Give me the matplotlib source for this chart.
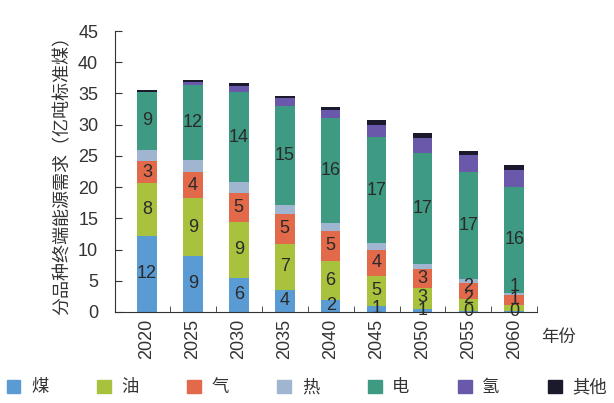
import numpy as np
import matplotlib
matplotlib.use('Agg')
import matplotlib.pyplot as plt
from matplotlib.patches import Patch

plt.rcParams['font.family'] = ['Liberation Sans', 'Noto Sans CJK SC']

years = ['2020', '2025', '2030', '2035', '2040', '2045', '2050', '2055', '2060']
fuels = ['煤', '油', '气', '热', '电', '氢', '其他']
colors = ['#5b9bd3', '#a8c23e', '#e2694a', '#a0b5cf', '#3f9a84', '#6a58ab', '#1b1a2c']

# 亿吨标准煤
coal = [12.2, 9.0, 5.5, 3.5, 1.9, 1.0, 0.5, 0.2, 0.1]
oil = [8.4, 9.2, 8.9, 7.4, 6.3, 4.8, 3.4, 1.8, 1.0]
gas = [3.6, 4.2, 4.6, 4.8, 4.8, 4.1, 3.0, 2.7, 1.6]
heat = [1.7, 1.9, 1.8, 1.5, 1.2, 1.1, 0.8, 0.5, 0.4]
elec = [9.4, 12.0, 14.4, 15.8, 16.9, 17.0, 17.7, 17.2, 16.9]
hydrogen = [0.0, 0.5, 1.0, 1.2, 1.3, 2.0, 2.5, 2.7, 2.8]
other = [0.3, 0.3, 0.4, 0.4, 0.4, 0.75, 0.8, 0.75, 0.8]

# numbers printed inside the bars
coal_lbl = [12, 9, 6, 4, 2, 1, 1, 0, 0]
oil_lbl = [8, 9, 9, 7, 6, 5, 3, 2, 1]
gas_lbl = [3, 4, 5, 5, 5, 4, 3, 2, 1]
elec_lbl = [9, 12, 14, 15, 16, 17, 17, 17, 16]

series = [coal, oil, gas, heat, elec, hydrogen, other]
labels = {0: coal_lbl, 1: oil_lbl, 2: gas_lbl, 4: elec_lbl}

fig = plt.figure(figsize=(6.14, 4.03), dpi=100)
ax = fig.add_axes([0.187, 0.226, 0.688, 0.697])

x = np.arange(len(years))
bottom = np.zeros(len(years))
centers = {}
for i, vals in enumerate(series):
    vals = np.array(vals)
    ax.bar(x, vals, 0.43, bottom=bottom, color=colors[i], linewidth=0)
    centers[i] = bottom + vals / 2
    bottom = bottom + vals

# labels: centred in segment, nudged up when segments are too thin
for j in range(len(years)):
    prev = -10
    for i in [0, 1, 2, 4]:
        y = max(centers[i][j], prev + 2.0)
        prev = y
        ax.text(x[j], y, str(labels[i][j]), ha='center', va='center',
                fontsize=13, color='#2a2a2a')

ax.set_xlim(-0.7, 8.5)
ax.set_ylim(0, 45)
ax.set_yticks(np.arange(0, 46, 5))
ax.set_xticks(x)
ax.set_xticklabels(years, rotation=90, fontsize=13, color='#333333')
ax.set_xticks(x + 0.5, minor=True)
ax.tick_params(axis='x', which='major', length=0, pad=5)
ax.tick_params(axis='x', which='minor', length=4, direction='in', color='#333333')
ax.tick_params(axis='y', direction='in', length=5, pad=12, labelsize=13,
               labelcolor='#333333', color='#333333')
for s in ['top', 'right']:
    ax.spines[s].set_visible(False)
for s in ['left', 'bottom']:
    ax.spines[s].set_color('#333333')

ax.set_ylabel('分品种终端能源需求（亿吨标准煤）', fontsize=13, color='#333333', labelpad=5)
ax.text(1.01, -0.09, '年份', transform=ax.transAxes, fontsize=12.5,
        color='#333333', ha='left', va='center')

handles = [Patch(color=c) for c in colors]
fig.legend(handles, fuels, loc='center', bbox_to_anchor=(0.5, 0.04), ncol=7,
           frameon=False, fontsize=12.5, handlelength=0.8, handleheight=0.8,
           handletextpad=0.6, columnspacing=2.8, labelcolor='#333333')

fig.savefig('out.png', dpi=100)
